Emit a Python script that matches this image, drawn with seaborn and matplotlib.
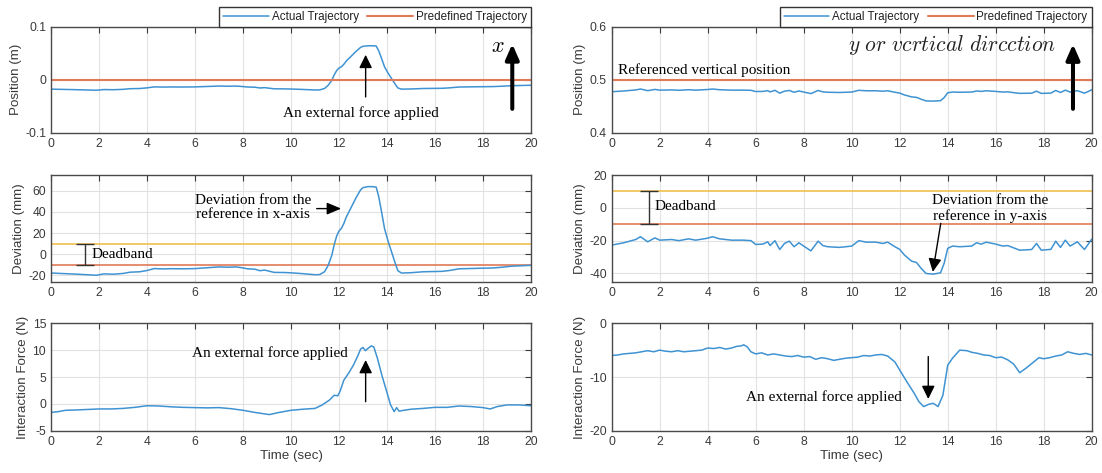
import matplotlib
matplotlib.use("Agg")
import matplotlib.pyplot as plt
import numpy as np
import pandas as pd
import seaborn as sns

# ---------------------------------------------------------------- data
# x direction: deviation from the reference (mm) and interaction force (N)
time_dev_x = [0.0, 0.5, 1.0, 1.5, 1.9, 2.2, 2.6, 3.0, 3.3, 3.7,
              4.0, 4.3, 4.7, 5.0, 5.5, 6.0, 6.5, 7.0, 7.4, 7.7,
              7.9, 8.2, 8.5, 8.7, 8.9, 9.3, 9.7, 10.0, 10.5, 11.0,
              11.2, 11.4, 11.55, 11.7, 11.8, 11.9, 12.0, 12.1, 12.2, 12.3,
              12.5, 12.7, 12.9, 13.0, 13.2, 13.4, 13.55, 13.65, 13.75, 13.9,
              14.05, 14.2, 14.35, 14.45, 14.6, 15.0, 15.5, 15.9, 16.3, 16.6,
              17.0, 17.5, 18.0, 18.4, 18.8, 19.2, 19.6, 20.0]
dev_x_mm = [-17.8, -18.3, -18.8, -19.4, -19.9, -18.6, -18.9, -18.2, -17.0, -16.6,
            -15.4, -13.6, -13.9, -13.7, -13.8, -13.6, -12.8, -12.0, -12.3, -12.0,
            -12.6, -13.8, -14.2, -15.6, -15.0, -17.2, -17.3, -17.6, -18.4, -19.4,
            -19.2, -16.5, -10.5, -1.0, 9.0, 17.0, 22.0, 24.5, 29.0, 35.0,
            44.0, 53.0, 61.0, 63.0, 64.0, 64.0, 63.5, 55.0, 43.0, 24.0,
            12.0, 1.5, -9.0, -15.5, -17.8, -17.5, -16.6, -16.4, -16.2, -15.4,
            -13.8, -13.5, -13.2, -13.0, -12.3, -11.3, -10.9, -10.5]

time_force_x = [0.0, 0.3, 0.6, 1.0, 1.5, 2.0, 2.5, 3.0, 3.5, 4.0,
                4.5, 5.0, 5.5, 6.0, 6.5, 7.0, 7.5, 8.0, 8.5, 8.8,
                9.1, 9.5, 10.0, 10.5, 11.0, 11.3, 11.6, 11.8, 11.95, 12.05,
                12.2, 12.4, 12.6, 12.8, 12.9, 13.0, 13.1, 13.2, 13.35, 13.45,
                13.6, 13.8, 14.0, 14.15, 14.3, 14.4, 14.5, 14.7, 15.0, 15.5,
                16.0, 16.5, 17.0, 17.5, 18.0, 18.3, 18.6, 19.0, 19.5, 20.0]
force_x_N = [-1.6, -1.45, -1.2, -1.15, -1.05, -0.95, -0.95, -0.85, -0.65, -0.35,
             -0.4, -0.55, -0.65, -0.7, -0.75, -0.7, -0.9, -1.2, -1.6, -1.8,
             -2.0, -1.6, -1.2, -1.0, -0.85, -0.2, 0.7, 1.6, 1.5, 2.4,
             4.4, 5.7, 7.2, 9.1, 10.2, 10.5, 9.9, 10.3, 10.8, 10.6,
             8.5, 5.1, 2.1, -0.2, -1.45, -0.7, -1.35, -1.2, -1.0, -0.85,
             -0.65, -0.65, -0.4, -0.5, -0.7, -0.95, -0.5, -0.2, -0.2, -0.35]

# y (vertical) direction
time_dev_y = [0.0, 0.5, 1.0, 1.2, 1.5, 1.8, 2.0, 2.5, 2.8, 3.2,
              3.5, 4.0, 4.2, 4.5, 5.0, 5.5, 5.8, 6.0, 6.3, 6.5,
              6.6, 6.8, 7.0, 7.2, 7.4, 7.6, 7.8, 8.0, 8.3, 8.6,
              8.8, 9.0, 9.5, 10.0, 10.3, 10.6, 11.0, 11.3, 11.5, 11.8,
              12.0, 12.2, 12.5, 12.7, 12.9, 13.1, 13.4, 13.7, 13.85, 14.0,
              14.2, 14.5, 15.0, 15.2, 15.4, 15.6, 16.0, 16.3, 16.5, 17.0,
              17.5, 17.7, 17.9, 18.3, 18.5, 18.7, 18.9, 19.1, 19.4, 19.7,
              20.0]
dev_y_mm = [-22.7, -21.3, -19.3, -17.6, -20.7, -18.3, -19.7, -19.3, -20.0, -18.9,
            -19.7, -18.5, -17.6, -18.9, -19.7, -19.7, -20.0, -22.3, -22.1, -20.7,
            -23.0, -20.0, -25.4, -21.7, -20.3, -23.7, -21.3, -23.3, -26.2, -20.3,
            -23.0, -23.7, -24.1, -23.3, -20.0, -20.9, -20.9, -21.7, -20.9, -23.7,
            -25.3, -28.8, -32.5, -33.3, -37.0, -40.0, -40.4, -39.6, -33.9, -24.7,
            -23.3, -23.7, -23.3, -21.3, -22.1, -20.9, -22.1, -23.3, -23.0, -25.8,
            -25.4, -21.7, -25.8, -25.3, -20.3, -24.1, -19.7, -23.3, -20.7, -25.4,
            -19.1]

time_force_y = [0.0, 0.25, 0.5, 0.75, 1.0, 1.25, 1.5, 1.75, 2.0, 2.25,
                2.5, 2.75, 3.0, 3.25, 3.5, 3.75, 4.0, 4.25, 4.5, 4.75,
                5.0, 5.2, 5.4, 5.5, 5.65, 5.8, 6.0, 6.25, 6.5, 6.75,
                7.0, 7.25, 7.5, 7.75, 8.0, 8.25, 8.5, 8.75, 9.0, 9.25,
                9.5, 9.75, 10.0, 10.25, 10.5, 10.75, 11.0, 11.25, 11.5,
                11.8, 12.0, 12.3, 12.6, 12.8, 13.0, 13.2, 13.4, 13.6, 13.8,
                14.0, 14.2, 14.5, 14.8, 15.0, 15.25, 15.5, 15.75, 16.0, 16.25,
                16.5, 16.75, 17.0, 17.25, 17.5, 17.8, 18.0, 18.25, 18.5, 18.75,
                19.0, 19.25, 19.5, 19.75, 20.0]
force_y_N = [-6.0, -5.9, -5.7, -5.6, -5.5, -5.3, -5.1, -5.3, -5.0, -5.2,
             -5.3, -5.1, -5.3, -5.2, -5.1, -5.0, -4.6, -4.7, -4.5, -4.8,
             -4.6, -4.3, -4.2, -4.0, -4.4, -5.3, -5.7, -5.5, -5.9, -5.7,
             -5.9, -6.1, -6.2, -6.0, -6.3, -6.2, -6.7, -6.4, -6.6, -6.9,
             -6.7, -6.5, -6.4, -6.3, -6.0, -6.1, -5.9, -5.8, -6.1,
             -7.2, -8.7, -10.9, -13.0, -14.6, -15.5, -15.1, -14.9, -15.5, -13.4,
             -7.8, -6.5, -5.0, -5.1, -5.4, -5.6, -5.9, -6.0, -6.4, -6.3,
             -6.8, -7.6, -9.2, -8.4, -7.5, -6.4, -6.6, -6.4, -6.1, -5.9,
             -5.3, -5.6, -5.8, -5.6, -5.9]

# reference positions (m) and deadband limits (mm)
ref_x_m = 0.0
ref_y_m = 0.5
deadband_mm = [10.0, -10.0]

time_ticks = list(range(0, 21, 2))
series_labels = ["Actual Trajectory", "Predefined Trajectory"]

# ---------------------------------------------------------------- style
BLUE = "#3f93d2"
RED = "#e07a58"
YELLOW = "#f0c04e"
INK = "#3a3a3a"
GRID = "#e2e2e2"

sns.set_theme(style="whitegrid")
plt.rcParams["font.family"] = ["Liberation Sans", "DejaVu Sans"]
plt.rcParams["mathtext.fontset"] = "cm"
plt.rcParams["axes.unicode_minus"] = False
SERIF = ["Liberation Serif", "DejaVu Serif"]

W, H = 1102, 473
fig = plt.figure(figsize=(W / 100, H / 100), dpi=100)
fig.patch.set_facecolor("white")


def rect(left, top, width, height):
    return [left / W, 1 - (top + height) / H, width / W, height / H]


cols = [51.0, 611.7]
rows = [(26.7, 106.0), (175.0, 106.7), (323.3, 107.4)]
axes = [[fig.add_axes(rect(c, r[0], 480.0, r[1])) for c in cols] for r in rows]


def style(ax, yticks, ylim, ylabel, yfmt=None):
    ax.set_facecolor("white")
    ax.set_xlim(0, 20)
    ax.set_xticks(time_ticks)
    ax.set_ylim(*ylim)
    ax.set_yticks(yticks)
    if yfmt is not None:
        ax.set_yticklabels([yfmt(v) for v in yticks])
    ax.set_axisbelow(True)
    ax.grid(True, color=GRID, lw=0.8)
    ax.tick_params(direction="in", top=True, right=True, length=4.5, width=0.8,
                   color=INK, labelcolor=INK, labelsize=8.7, pad=3.5)
    for s in ax.spines.values():
        s.set_color("#4a4a4a")
        s.set_linewidth(1.0)
    ax.set_ylabel(ylabel, fontsize=9.6, color=INK, labelpad=2.5)
    ax.set_xlabel("")


def fmt_pos(v):
    return "0" if abs(v) < 1e-9 else f"{v:g}"


def legend(ax):
    h, l = ax.get_legend_handles_labels()
    leg = ax.legend(h, l, loc="lower right", bbox_to_anchor=(1.0, 1.0), ncol=2,
                    frameon=True, fancybox=False, framealpha=1, edgecolor="#333333",
                    fontsize=8.4, handlelength=3.9, handletextpad=0.25,
                    columnspacing=0.75, borderpad=0.35, borderaxespad=0.0)
    leg.get_frame().set_linewidth(1.0)
    for t in leg.get_texts():
        t.set_color("#222222")


def arrow(ax, tail, tip, lw=1.0, hl=0.57, hw=0.28, ms=14):
    ax.annotate("", xy=tip, xytext=tail,
                arrowprops=dict(arrowstyle=f"-|>,head_length={hl},head_width={hw}",
                                lw=lw, color="black", shrinkA=0, shrinkB=0,
                                mutation_scale=ms))


def note(ax, x, y, s, ha="center", size=11):
    ax.text(x, y, s, ha=ha, va="center", fontsize=size, family=SERIF,
            color="black", linespacing=1.15)


frame_x = pd.DataFrame({"t": time_dev_x, "dev": dev_x_mm})
frame_x["pos"] = ref_x_m + frame_x["dev"] / 1000.0
frame_y = pd.DataFrame({"t": time_dev_y, "dev": dev_y_mm})
frame_y["pos"] = ref_y_m + frame_y["dev"] / 1000.0
force_x = pd.DataFrame({"t": time_force_x, "f": force_x_N})
force_y = pd.DataFrame({"t": time_force_y, "f": force_y_N})

# ---------------------------------------------------------------- x direction
ax = axes[0][0]
sns.lineplot(data=frame_x, x="t", y="pos", ax=ax, color=BLUE, lw=1.1,
             label=series_labels[0], legend=False)
ax.axhline(ref_x_m, color=RED, lw=1.5, label=series_labels[1])
style(ax, [-0.1, 0.0, 0.1], (-0.1, 0.1), "Position (m)", fmt_pos)
legend(ax)
note(ax, 12.9, -0.0625, "An external force applied")
arrow(ax, (13.11, -0.0325), (13.11, 0.047))
arrow(ax, (19.22, -0.055), (19.22, 0.0674), lw=2.9, hl=0.57, hw=0.25, ms=16)
ax.text(18.6, 0.062, r"$x$", ha="center", va="center", fontsize=16, color="black")

ax = axes[1][0]
ax.axhline(deadband_mm[0], color=YELLOW, lw=1.2)
ax.axhline(deadband_mm[1], color=RED, lw=1.2)
sns.lineplot(data=frame_x, x="t", y="dev", ax=ax, color=BLUE, lw=1.1, legend=False)
style(ax, [-20, 0, 20, 40, 60], (-26, 75), "Deviation (mm)")
ax.errorbar([1.43], [0.0], yerr=[10.0], fmt="none", ecolor="#333333",
            elinewidth=1.0, capsize=6.8, capthick=1.0)
note(ax, 1.68, 0.0, "Deadband", ha="left")
note(ax, 8.41, 44.4, "Deviation from the\nreference in x-axis")
arrow(ax, (11.07, 43.2), (12.09, 43.2), hl=0.62, hw=0.26)

ax = axes[2][0]
sns.lineplot(data=force_x, x="t", y="f", ax=ax, color=BLUE, lw=1.1, legend=False)
style(ax, [-5, 0, 5, 10, 15], (-5, 15), "Interaction Force (N)")
ax.set_xlabel("Time (sec)", fontsize=9.6, color=INK, labelpad=2)
note(ax, 9.14, 9.53, "An external force applied")
arrow(ax, (13.11, 0.4), (13.11, 8.17))

# ---------------------------------------------------------------- y direction
ax = axes[0][1]
sns.lineplot(data=frame_y, x="t", y="pos", ax=ax, color=BLUE, lw=1.1,
             label=series_labels[0], legend=False)
ax.axhline(ref_y_m, color=RED, lw=1.5, label=series_labels[1])
style(ax, [0.4, 0.5, 0.6], (0.4, 0.6), "Position (m)", fmt_pos)
legend(ax)
note(ax, 0.26, 0.5176, "Referenced vertical position", ha="left")
ax.text(14.18, 0.565, r"$y\ or\ vcrtical\ dircction$", ha="center", va="center",
        fontsize=15.5, color="#222222")
arrow(ax, (19.22, 0.445), (19.22, 0.567), lw=2.9, hl=0.57, hw=0.25, ms=16)

ax = axes[1][1]
ax.axhline(deadband_mm[0], color=YELLOW, lw=1.2)
ax.axhline(deadband_mm[1], color=RED, lw=1.2)
sns.lineplot(data=frame_y, x="t", y="dev", ax=ax, color=BLUE, lw=1.1, legend=False)
style(ax, [-40, -20, 0, 20], (-45, 20), "Deviation (mm)")
ax.errorbar([1.54], [0.0], yerr=[10.0], fmt="none", ecolor="#333333",
            elinewidth=1.0, capsize=6.8, capthick=1.0)
note(ax, 1.77, 0.7, "Deadband", ha="left")
note(ax, 15.78, -0.5, "Deviation from the\nreference in y-axis")
arrow(ax, (13.71, -9.5), (13.38, -39.0))

ax = axes[2][1]
sns.lineplot(data=force_y, x="t", y="f", ax=ax, color=BLUE, lw=1.1, legend=False)
style(ax, [-20, -10, 0], (-20, 0), "Interaction Force (N)")
ax.set_xlabel("Time (sec)", fontsize=9.6, color=INK, labelpad=2)
note(ax, 8.86, -13.66, "An external force applied")
arrow(ax, (13.19, -6.2), (13.19, -14.1))

fig.savefig("out.png", dpi=100, facecolor="white")
